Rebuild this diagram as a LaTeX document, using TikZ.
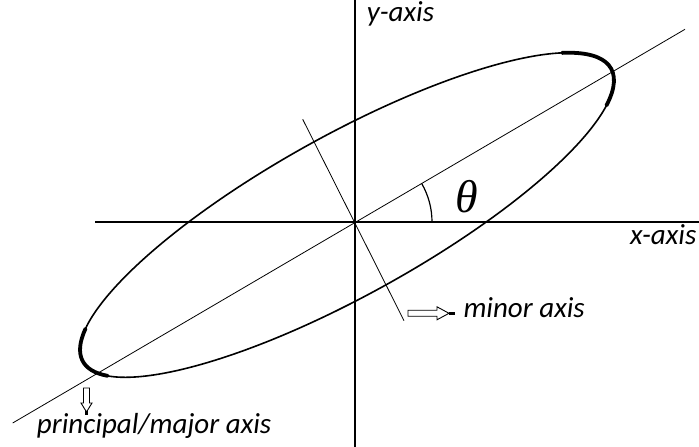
\documentclass[tikz,border=0pt]{standalone}
\usepackage{fontspec}
\setmainfont{Carlito}
\newfontfamily\thetafont{Liberation Serif}
\begin{document}
\begin{tikzpicture}[x=1pt,y=1pt,
  axisline/.style={line width=1.6pt,black},
  thinline/.style={line width=0.8pt,black},
  ell/.style={line width=1.6pt,black},
  ellthick/.style={line width=3.8pt,black,line cap=round},
  lbl/.style={inner sep=0pt,anchor=base west,font=\fontsize{29}{34}\selectfont\itshape},
  hollow/.style={line width=0.9pt,black,fill=white,line join=miter}]
\useasboundingbox (0,0) rectangle (699,447);
% named points
\coordinate (O) at (355,225);
\coordinate (xl) at (95,225);
\coordinate (xr) at (699,225);
\coordinate (yb) at (355,0);
\coordinate (yt) at (355,447);
\coordinate (M1) at (12.7,24);
\coordinate (M2) at (685,417.7);
\coordinate (m1) at (302.7,327.7);
\coordinate (m2) at (404,126.3);
\coordinate (C) at (347,232);
% axes
\draw[axisline] (xl) -- (xr);
\draw[axisline] (yb) -- (yt);
% major and minor axis lines
\draw[thinline] (M1) -- (M2);
\draw[thinline] (m1) -- (m2);
% ellipse
\begin{scope}[shift={(C)},rotate=29]
  \draw[ell] (0,0) ellipse [x radius=302pt, y radius=80pt];
  \draw[ellthick] (-22:302pt and 80pt) arc[start angle=-22, end angle=28, x radius=302pt, y radius=80pt];
  \draw[ellthick] (160:302pt and 80pt) arc[start angle=160, end angle=198, x radius=302pt, y radius=80pt];
\end{scope}
% angle arc
\draw[line width=1.2pt] (432,225) arc[start angle=0, end angle=30, radius=77pt];
\node[inner sep=0pt,font=\fontsize{46}{50}\selectfont\thetafont\itshape] (th) at (467,250) {θ};
% labels
\node[lbl] (ylab) at (366.7,425.3) {y-axis};
\node[lbl] (xlab) at (630,202) {x-axis};
\node[lbl] (minlab) at (463.3,129.3) {minor axis};
\node[lbl] (majlab) at (36.7,13.7) {principal/major axis};
% hollow arrow to minor axis label
\draw[hollow] (408,130.7) -- (437,130.7) -- (437,127.2) -- (449,133.7) -- (437,140.2) -- (437,136.7) -- (408,136.7) -- cycle;
\draw[line width=2.6pt] (449,133.7) -- (455,133.7);
% hollow arrow down to principal label
\draw[hollow] (83.5,59) -- (83.5,44) -- (81,44) -- (86.5,35) -- (92,44) -- (89.5,44) -- (89.5,59) -- cycle;
\draw[line width=2.4pt] (86.5,36) -- (86.5,32);
\end{tikzpicture}
\end{document}
